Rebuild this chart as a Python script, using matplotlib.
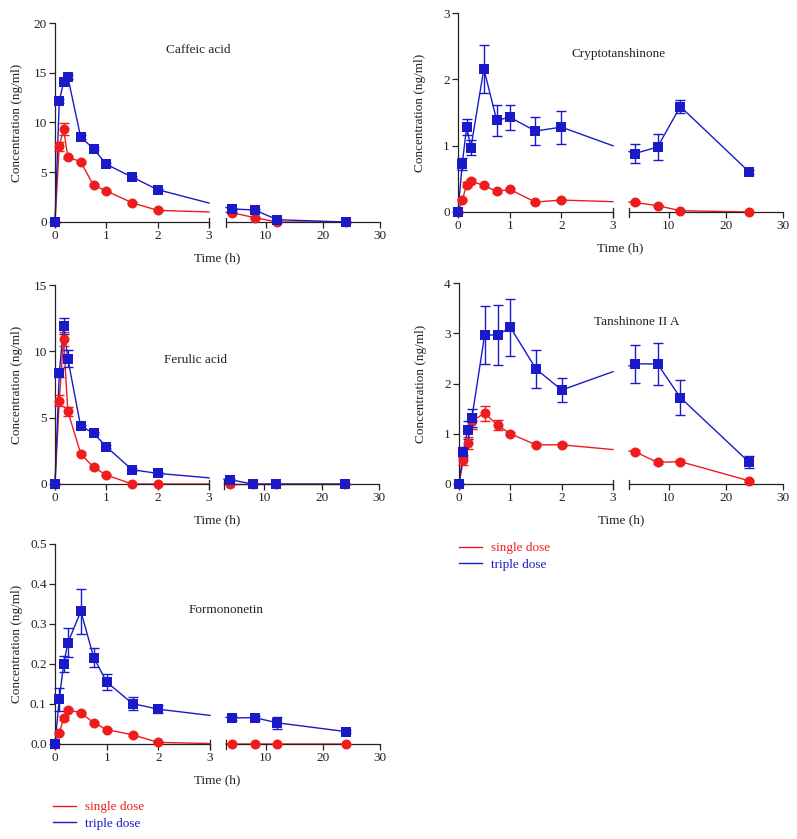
import numpy as np
import matplotlib
matplotlib.use("Agg")
import matplotlib.pyplot as plt
from matplotlib.lines import Line2D

plt.rcParams['font.family'] = ['Liberation Serif', 'DejaVu Serif']
plt.rcParams['font.size'] = 9.5

# ---------------- DATA ----------------
times = [0, 0.083, 0.167, 0.25, 0.5, 0.75, 1, 1.5, 2, 4, 8, 12, 24]

caffeic_single = [0, 7.6, 9.38, 6.53, 6.06, 3.69, 3.12, 1.94, 1.17, 0.94, 0.44, 0, 0]
caffeic_single_sd = [0, 0.45, 0.6, 0.15, 0.1, 0.1, 0.1, 0.1, 0.1, 0.1, 0.1, 0, 0]
caffeic_triple = [0, 12.13, 14.07, 14.57, 8.54, 7.37, 5.80, 4.52, 3.25, 1.31, 1.21, 0.23, 0]
caffeic_triple_sd = [0, 0.2, 0.2, 0.2, 0.2, 0.15, 0.15, 0.1, 0.1, 0.1, 0.1, 0.05, 0]

crypto_single = [0, 0.18, 0.41, 0.47, 0.40, 0.31, 0.34, 0.15, 0.18, 0.145, 0.095, 0.02, 0]
crypto_single_sd = [0, 0.02, 0.04, 0.03, 0.02, 0.02, 0.02, 0.02, 0.02, 0.02, 0.01, 0.01, 0]
crypto_triple = [0, 0.73, 1.28, 0.97, 2.16, 1.38, 1.43, 1.22, 1.28, 0.88, 0.98, 1.59, 0.61]
crypto_triple_sd = [0, 0.09, 0.125, 0.11, 0.36, 0.24, 0.19, 0.21, 0.25, 0.145, 0.19, 0.095, 0.03]

ferulic_single = [0, 6.28, 10.93, 5.48, 2.29, 1.26, 0.68, 0, 0, 0, 0, 0, 0]
ferulic_single_sd = [0, 0.4, 0.5, 0.35, 0.1, 0.1, 0.1, 0, 0, 0, 0, 0, 0]
ferulic_triple = [0, 8.34, 11.93, 9.45, 4.35, 3.84, 2.81, 1.08, 0.80, 0.33, 0, 0, 0]
ferulic_triple_sd = [0, 0.3, 0.6, 0.65, 0.1, 0.1, 0.1, 0.1, 0.1, 0.05, 0, 0, 0]

tansh_single = [0, 0.47, 0.81, 1.25, 1.41, 1.17, 1.0, 0.78, 0.78, 0.645, 0.43, 0.445, 0.066]
tansh_single_sd = [0, 0.1, 0.12, 0.15, 0.15, 0.1, 0.03, 0.03, 0.03, 0.03, 0.03, 0.03, 0.02]
tansh_triple = [0, 0.63, 1.08, 1.31, 2.97, 2.96, 3.12, 2.29, 1.87, 2.39, 2.39, 1.72, 0.44]
tansh_triple_sd = [0, 0.1, 0.18, 0.18, 0.58, 0.6, 0.57, 0.37, 0.23, 0.38, 0.41, 0.35, 0.12]

formo_single = [0, 0.028, 0.064, 0.086, 0.078, 0.053, 0.036, 0.023, 0.004, 0, 0, 0, 0]
formo_single_sd = [0, 0.003, 0.005, 0.004, 0.003, 0.003, 0.003, 0.003, 0.002, 0, 0, 0, 0]
formo_triple = [0, 0.112, 0.2, 0.253, 0.332, 0.216, 0.155, 0.101, 0.087, 0.065, 0.066, 0.053, 0.031]
formo_triple_sd = [0, 0.029, 0.02, 0.036, 0.056, 0.023, 0.019, 0.017, 0.01, 0.005, 0.005, 0.015, 0.003]

names = ["Caffeic acid", "Cryptotanshinone", "Ferulic acid", "Tanshinone II A", "Formononetin"]
y_ticks = [[0, 5, 10, 15, 20], [0, 1, 2, 3], [0, 5, 10, 15], [0, 1, 2, 3, 4],
           [0.0, 0.1, 0.2, 0.3, 0.4, 0.5]]
left_xticks = [0, 1, 2, 3]
right_xticks = [10, 20, 30]
legend_labels = ["single dose", "triple dose"]

singles = [caffeic_single, crypto_single, ferulic_single, tansh_single, formo_single]
singles_sd = [caffeic_single_sd, crypto_single_sd, ferulic_single_sd, tansh_single_sd, formo_single_sd]
triples = [caffeic_triple, crypto_triple, ferulic_triple, tansh_triple, formo_triple]
triples_sd = [caffeic_triple_sd, crypto_triple_sd, ferulic_triple_sd, tansh_triple_sd, formo_triple_sd]

# ---------------- LAYOUT (pixels) ----------------
W, H = 797, 839
# (left x0, left x1, right x0, right x1, y top, y bottom)
boxes = [(55, 209, 226, 380, 23, 222),
         (458, 613, 629, 783, 13, 212),
         (55, 209, 224, 379, 285, 484),
         (459, 613, 629, 783, 283, 484),
         (55, 210, 226, 380, 544, 744)]
title_pos = [(198, 50), (619, 54), (196, 360), (637, 322), (226, 610)]

RED = '#ee1c1c'
BLUE = '#1a1ac8'
INK = '#222222'


def frac_rect(x0, x1, yt, yb):
    return [x0 / W, 1 - yb / H, (x1 - x0) / W, (yb - yt) / H]


def style_axis(ax, show_y):
    for s in ['top', 'right']:
        ax.spines[s].set_visible(False)
    ax.spines['left'].set_visible(show_y)
    for s in ['left', 'bottom']:
        ax.spines[s].set_color(INK)
        ax.spines[s].set_linewidth(0.9)
    ax.tick_params(direction='out', length=4, width=0.9, colors=INK, pad=2)
    ax.set_facecolor('none')
    if not show_y:
        ax.tick_params(axis='y', left=False, labelleft=False)


def plot_series(ax_l, ax_r, y, sd, color, marker):
    t = np.array(times)
    y = np.array(y)
    sd = np.array(sd)
    # connect the 2 h and 4 h points in display space across the break
    i2 = np.where(t <= 3)[0][-1]
    i4 = i2 + 1
    p2 = ax_l.transData.transform((t[i2], y[i2]))
    p4 = ax_r.transData.transform((t[i4], y[i4]))
    xl_edge = ax_l.transData.transform((3, 0))[0]
    xr_edge = ax_r.transData.transform((3, 0))[0]
    fl = (xl_edge - p2[0]) / (p4[0] - p2[0])
    fr = (xr_edge - p2[0]) / (p4[0] - p2[0])
    yl = ax_l.transData.inverted().transform((xl_edge, p2[1] + fl * (p4[1] - p2[1])))[1]
    yr = ax_r.transData.inverted().transform((xr_edge, p2[1] + fr * (p4[1] - p2[1])))[1]

    ml = t <= 3
    mr = t > 3
    ax_l.plot(np.append(t[ml], 3), np.append(y[ml], yl), color=color, lw=1.0,
              clip_on=False, zorder=2)
    ax_r.plot(np.insert(t[mr], 0, 3), np.insert(y[mr], 0, yr), color=color, lw=1.0,
              clip_on=False, zorder=2)
    for ax, m in [(ax_l, ml), (ax_r, mr)]:
        eb = ax.errorbar(t[m], y[m], yerr=sd[m], fmt='none', ecolor=color,
                         elinewidth=1.0, capsize=3.6, capthick=1.0, zorder=3)
        for art in eb.get_children():
            art.set_clip_on(False)
        ax.plot(t[m], y[m], linestyle='none', marker=marker, markersize=7.2,
                color=color, markeredgewidth=0, clip_on=False, zorder=4)


fig = plt.figure(figsize=(W / 100, H / 100), dpi=100)

for k in range(5):
    lx0, lx1, rx0, rx1, yt, yb = boxes[k]
    ax_l = fig.add_axes(frac_rect(lx0, lx1, yt, yb))
    ax_r = fig.add_axes(frac_rect(rx0, rx1, yt, yb))
    ymax = y_ticks[k][-1]
    for ax in (ax_l, ax_r):
        ax.set_ylim(0, ymax)
    ax_l.set_xlim(0, 3)
    ax_r.set_xlim(3, 30)
    style_axis(ax_l, True)
    style_axis(ax_r, False)
    ax_l.set_xticks(left_xticks)
    ax_r.set_xticks(right_xticks)
    ax_l.set_yticks(y_ticks[k])
    if k == 4:
        ax_l.set_yticklabels(["%.1f" % v for v in y_ticks[k]])

    # break marks on the x axis
    d = 4.5 / (yb - yt)
    ax_l.plot([1, 1], [-d, d], transform=ax_l.transAxes, color=INK, lw=0.9, clip_on=False)
    ax_r.plot([0, 0], [-d, d], transform=ax_r.transAxes, color=INK, lw=0.9, clip_on=False)

    plot_series(ax_l, ax_r, singles[k], singles_sd[k], RED, 'o')
    plot_series(ax_l, ax_r, triples[k], triples_sd[k], BLUE, 's')

    fig.text(title_pos[k][0] / W, 1 - title_pos[k][1] / H, names[k],
             ha='center', va='center', color=INK)
    fig.text((lx0 + rx1) / 2 / W, 1 - (yb + 36) / H, "Time (h)",
             ha='center', va='center', color=INK)
    fig.text((lx0 - 38) / W, 1 - (yt + yb) / 2 / H, "Concentration (ng/ml)",
             rotation=90, ha='center', va='center', color=INK)

# legends
handles = [Line2D([], [], color=RED, lw=1.0), Line2D([], [], color=BLUE, lw=1.0)]
for (x0, ytop) in [(459, 542), (53, 801)]:
    leg = fig.legend(handles, legend_labels, loc='upper left',
                     bbox_to_anchor=(x0 / W, 1 - ytop / H), frameon=False,
                     handlelength=1.75, handletextpad=0.7, labelspacing=0.35,
                     borderaxespad=0, borderpad=0, labelcolor='linecolor')

fig.savefig('out.png', dpi=100)
